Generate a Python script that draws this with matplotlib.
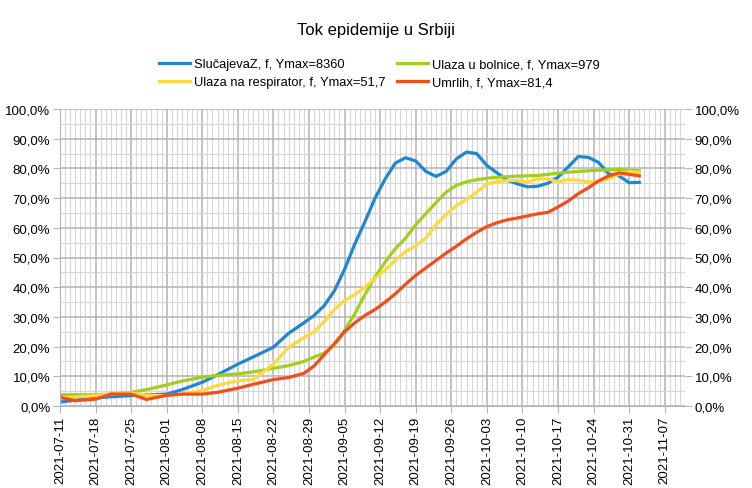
import numpy as np
import pandas as pd
import matplotlib
matplotlib.use('Agg')
import matplotlib.pyplot as plt
import matplotlib.dates as mdates
from matplotlib.ticker import FuncFormatter, MultipleLocator

plt.rcParams['font.family'] = ['Liberation Sans', 'DejaVu Sans']

start = pd.Timestamp('2021-07-11')
days = [0, 3, 7, 10, 14, 17, 21, 24, 28, 31, 35, 38, 42, 45, 48, 50, 52, 54, 56, 58,
        60, 62, 64, 66, 68, 70, 72, 74, 76, 78, 80, 82, 84, 86, 88, 90, 92, 94, 96, 98,
        100, 102, 104, 106, 108, 110, 112, 114]

slucajevi = [1.3, 2.0, 2.7, 3.1, 3.5, 3.7, 4.0, 5.5, 8.0, 10.5, 14.1, 16.5, 19.8, 24.5, 28.0, 30.5,
             33.8, 38.8, 46.0, 54.5, 62.0, 70.0, 76.5, 81.8, 83.6, 82.5, 79.0, 77.3, 79.0, 83.2,
             85.5, 85.0, 81.0, 78.5, 76.0, 74.8, 73.8, 74.0, 75.0, 77.0, 80.5, 84.0, 83.7, 82.0,
             78.1, 77.5, 75.2, 75.3]
bolnice = [3.8, 3.8, 3.8, 4.0, 4.6, 5.5, 7.1, 8.4, 9.7, 10.3, 10.8, 11.5, 12.7, 13.6, 15.0, 16.5,
           17.8, 20.5, 25.5, 31.0, 37.5, 43.5, 48.5, 53.0, 56.5, 61.0, 64.8, 68.5, 72.0, 74.3,
           75.5, 76.2, 76.7, 77.0, 77.2, 77.4, 77.5, 77.6, 78.0, 78.4, 78.7, 79.0, 79.2, 79.4,
           79.5, 79.6, 79.4, 79.2]
respirator = [2.6, 3.0, 3.5, 4.0, 4.4, 3.6, 3.5, 4.0, 5.2, 7.0, 8.5, 8.9, 14.1, 19.8, 23.0, 25.0,
              28.5, 32.5, 35.5, 37.5, 40.0, 43.0, 45.8, 49.0, 52.0, 54.0, 56.5, 61.0, 64.5, 67.5,
              69.5, 72.0, 74.8, 75.6, 75.9, 75.9, 75.4, 76.5, 76.5, 75.5, 76.2, 76.0, 75.4, 75.6,
              76.5, 78.0, 78.9, 78.7]
umrli = [2.9, 1.8, 2.3, 4.0, 4.0, 2.2, 3.6, 4.0, 4.0, 4.6, 6.0, 7.3, 8.9, 9.6, 11.0, 13.5,
         17.3, 21.0, 25.0, 28.0, 30.5, 32.5, 35.0, 37.8, 41.0, 44.0, 46.5, 49.0, 51.5, 53.8,
         56.3, 58.5, 60.4, 61.7, 62.7, 63.3, 64.0, 64.7, 65.2, 67.0, 69.0, 71.5, 73.5, 75.8,
         77.5, 78.5, 78.0, 77.5]

dates = start + pd.to_timedelta(days, unit='D')

fig = plt.figure(figsize=(7.52, 4.89), dpi=100)
ax = fig.add_axes([60 / 752, 1 - 407 / 489, 625 / 752, 297 / 489])

lw = 2.3
h1, = ax.plot(dates, slucajevi, color='#1f86d2', lw=lw, label='SlučajevaZ, f, Ymax=8360')
h3, = ax.plot(dates, bolnice, color='#a2cf1b', lw=lw, label='Ulaza u bolnice, f, Ymax=979')
h2, = ax.plot(dates, respirator, color='#ffd93c', lw=lw, label='Ulaza na respirator, f, Ymax=51,7')
h4, = ax.plot(dates, umrli, color='#f34d1c', lw=lw, label='Umrlih, f, Ymax=81,4')

ax.set_ylim(0, 100)
ax.set_xlim(start, pd.Timestamp('2021-11-11'))
ax.yaxis.set_major_locator(MultipleLocator(10))
ax.yaxis.set_minor_locator(MultipleLocator(5))
ax.yaxis.set_major_formatter(FuncFormatter(lambda v, p: f'{v:.1f}%'.replace('.', ',')))

ticks = pd.date_range('2021-07-11', '2021-11-07', freq='7D')
ax.set_xticks(ticks)
ax.xaxis.set_major_formatter(mdates.DateFormatter('%Y-%m-%d'))
ax.xaxis.set_minor_locator(mdates.DayLocator())
plt.setp(ax.get_xticklabels(), rotation=90)

ax.grid(which='major', color='#b3b3b8', lw=1.1)
ax.grid(which='minor', color='#d6d6d6', lw=0.8)
ax.set_axisbelow(True)
for s in ax.spines.values():
    s.set_visible(False)
ax.spines['left'].set_visible(True)
ax.spines['left'].set_color('#b3b3b8')
ax.spines['bottom'].set_visible(True)
ax.spines['bottom'].set_color('#b3b3b8')

ax.tick_params(which='major', labelsize=9.5, length=5, color='#b3b3b8', labelright=True, right=True,
               pad=2)
ax.tick_params(which='minor', length=0)

fig.text(0.5, 1 - 30 / 489, 'Tok epidemije u Srbiji', ha='center', va='center', fontsize=12)
fig.legend(handles=[h1, h2, h3, h4], ncol=2, loc='upper center', bbox_to_anchor=(0.505, 1 - 53 / 489),
           frameon=False, fontsize=9.3, handlelength=2.4, handletextpad=0.3, columnspacing=0.9,
           labelspacing=0.45, borderpad=0)

fig.savefig('out.png', dpi=100)
